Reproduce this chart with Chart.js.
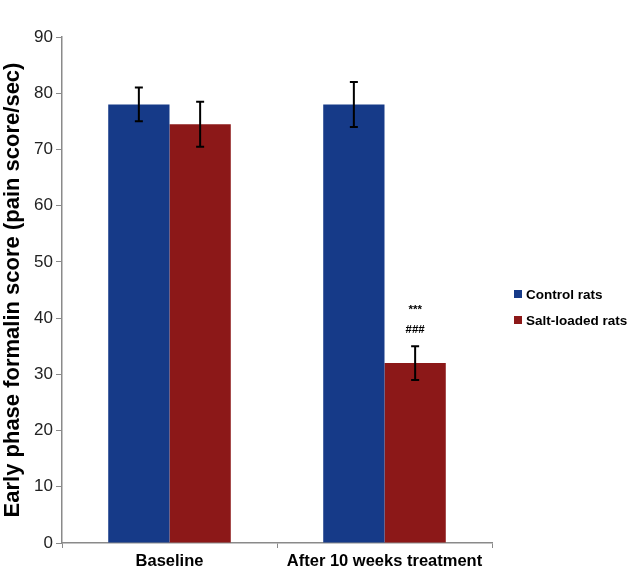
<!DOCTYPE html>
<html lang="en">
<head>
    <meta charset="UTF-8">
    <title>Early phase formalin score</title>
    <script src="https://cdn.jsdelivr.net/npm/chart.js"></script>
    <style>
        html, body { margin: 0; padding: 0; background: #fff; }
        #wrap { width: 631px; height: 568px; }
    </style>
</head>
<body>
<div id="wrap"><canvas id="chart" width="631" height="568"></canvas></div>
<script>
    // data
    const categories = ['Baseline', 'After 10 weeks treatment'];
    const seriesNames = ['Control rats', 'Salt-loaded rats'];
    const controlValues = [78, 78];
    const controlErrors = [3, 4];
    const saltValues = [74.5, 32];
    const saltErrors = [4, 3];
    const yTicks = [0, 10, 20, 30, 40, 50, 60, 70, 80, 90];
    // significance marks above the salt-loaded bar after treatment
    const marks = [null, ['***', '###']];

    const FONT = '"Liberation Sans", Arial, sans-serif';
    const blue = '#163a88';
    const red = '#8c1818';

    // error bars drawn from scale values
    const errorBars = {
        id: 'errorBars',
        afterDatasetsDraw(chart) {
            const ctx = chart.ctx;
            const y = chart.scales.y;
            ctx.save();
            ctx.strokeStyle = '#000';
            ctx.lineWidth = 2;
            chart.data.datasets.forEach((ds, di) => {
                const meta = chart.getDatasetMeta(di);
                meta.data.forEach((bar, i) => {
                    const v = ds.data[i], e = ds.errors[i];
                    const top = y.getPixelForValue(v + e);
                    const bot = y.getPixelForValue(v - e);
                    ctx.beginPath();
                    ctx.moveTo(bar.x, top); ctx.lineTo(bar.x, bot);
                    ctx.moveTo(bar.x - 4, top); ctx.lineTo(bar.x + 4, top);
                    ctx.moveTo(bar.x - 4, bot); ctx.lineTo(bar.x + 4, bot);
                    ctx.stroke();
                    if (di === 1 && marks[i]) {
                        ctx.fillStyle = '#000';
                        ctx.font = 'bold 11.5px ' + FONT;
                        ctx.textAlign = 'center';
                        ctx.textBaseline = 'middle';
                        ctx.fillText(marks[i][0], bar.x, top - 36);
                        ctx.fillText(marks[i][1], bar.x, top - 16);
                    }
                });
            });
            ctx.restore();
        }
    };

    // legend on the right
    const sideLegend = {
        id: 'sideLegend',
        afterDraw(chart) {
            const ctx = chart.ctx;
            ctx.save();
            ctx.font = 'bold 13.5px ' + FONT;
            ctx.textBaseline = 'middle';
            ctx.textAlign = 'left';
            chart.data.datasets.forEach((ds, i) => {
                const cy = 294 + i * 26;
                ctx.fillStyle = ds.backgroundColor;
                ctx.fillRect(514, cy - 4, 8, 8);
                ctx.fillStyle = '#000';
                ctx.fillText(ds.label, 526, cy + 1);
            });
            ctx.restore();
        }
    };

    new Chart(document.getElementById('chart'), {
        type: 'bar',
        data: {
            labels: categories,
            datasets: [
                { label: seriesNames[0], data: controlValues, errors: controlErrors, backgroundColor: blue },
                { label: seriesNames[1], data: saltValues, errors: saltErrors, backgroundColor: red }
            ]
        },
        options: {
            responsive: false,
            animation: false,
            devicePixelRatio: 1,
            layout: { padding: { top: 37, right: 139, left: 0, bottom: 0 } },
            datasets: { bar: { categoryPercentage: 0.57, barPercentage: 1.0 } },
            plugins: { legend: { display: false }, tooltip: { enabled: false } },
            scales: {
                x: {
                    afterFit(s) { s.height = 25; },
                    grid: { offset: true, drawOnChartArea: false, color: '#8a8a8a', tickLength: 5 },
                    border: { color: '#8a8a8a', width: 1.5 },
                    ticks: { color: '#000', font: { family: FONT, size: 16.5, weight: 'bold' }, padding: 4 }
                },
                y: {
                    min: 0,
                    max: 90,
                    afterFit(s) { s.width = 62; },
                    afterBuildTicks(s) { s.ticks = yTicks.map(v => ({ value: v })); },
                    grid: { drawOnChartArea: false, color: '#8a8a8a', tickLength: 6 },
                    border: { color: '#8a8a8a', width: 1.5 },
                    ticks: { color: '#222', font: { family: FONT, size: 17 }, padding: 3 },
                    title: {
                        display: true,
                        text: 'Early phase formalin score (pain score/sec)',
                        color: '#000',
                        font: { family: FONT, size: 22, weight: 'bold' },
                        padding: { top: 0, bottom: 0 }
                    }
                }
            }
        },
        plugins: [errorBars, sideLegend]
    });
</script>
</body>
</html>
